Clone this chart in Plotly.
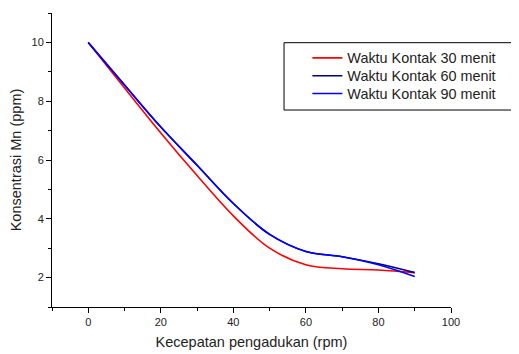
import plotly.graph_objects as go

x_rpm = [0, 10, 20, 30, 40, 50, 60, 70, 80, 90]
mn_30 = [10, 8.45, 6.92, 5.47, 4.10, 3.00, 2.44, 2.30, 2.26, 2.17]
mn_60 = [10, 8.55, 7.12, 5.82, 4.52, 3.47, 2.89, 2.71, 2.47, 2.17]
mn_90 = [10, 8.55, 7.12, 5.82, 4.52, 3.47, 2.89, 2.71, 2.44, 2.04]
names = ["Waktu Kontak 30 menit", "Waktu Kontak 60 menit", "Waktu Kontak 90 menit"]
colors = ["#FF0000", "#000080", "#0000FF"]

FONT = "Arial, Liberation Sans, sans-serif"
legend_ids = ["legend", "legend2", "legend3"]
legend_y = [0.847, 0.786, 0.7255]

fig = go.Figure()
for ys, nm, c, lg in zip([mn_30, mn_60, mn_90], names, colors, legend_ids):
    fig.add_trace(go.Scatter(x=x_rpm, y=ys, name=nm, mode="lines", legend=lg,
                             line=dict(color=c, width=1.6, shape="spline", smoothing=1.0)))

axis_common = dict(showgrid=False, zeroline=False, showline=True, linecolor="black", linewidth=1,
                   ticks="outside", ticklen=5, tickwidth=1, tickcolor="black",
                   tickfont=dict(family=FONT, size=11, color="#222"),
                   mirror=False, automargin=False)

legend_style = dict(x=0.640, xanchor="left", yanchor="middle",
                    bgcolor="rgba(0,0,0,0)", borderwidth=0,
                    font=dict(family=FONT, size=14.4, color="#222"),
                    itemwidth=30)

# page has an 8px body margin; figure is sized so it ends at the window edge
fig.update_layout(
    width=511, height=346,
    margin=dict(l=44, r=68, t=5, b=47, autoexpand=False),
    paper_bgcolor="white", plot_bgcolor="white",
    font=dict(family=FONT, color="#222"),
    xaxis=dict(range=[-10, 100], dtick=20, tick0=0,
               minor=dict(dtick=10, tick0=0, ticks="outside", ticklen=3, tickcolor="black", showgrid=False),
               title=dict(text="Kecepatan pengadukan (rpm)", font=dict(family=FONT, size=14.5), standoff=9),
               **axis_common),
    yaxis=dict(range=[1, 11], dtick=2, tick0=0,
               minor=dict(dtick=1, tick0=0, ticks="outside", ticklen=3, tickcolor="black", showgrid=False),
               title=dict(text="Konsentrasi Mn (ppm)", font=dict(family=FONT, size=14.5), standoff=10),
               **axis_common),
    legend=dict(y=legend_y[0], **legend_style),
    legend2=dict(y=legend_y[1], **legend_style),
    legend3=dict(y=legend_y[2], **legend_style),
    showlegend=True,
)

fig.add_shape(type="rect", xref="paper", yref="paper",
              x0=0.5815, x1=1.3, y0=0.670, y1=0.899,
              line=dict(color="black", width=1), fillcolor="rgba(0,0,0,0)", layer="above")

fig.write_html("out.html")
